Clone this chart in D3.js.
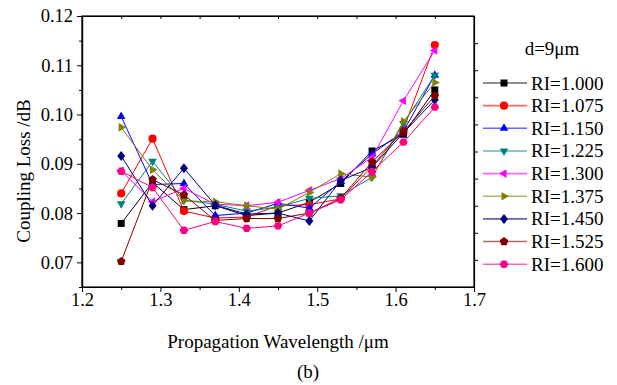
<!DOCTYPE html>
<html><head><meta charset="utf-8">
<script src="https://cdn.jsdelivr.net/npm/d3@7"></script>
<style>
body{margin:0;background:#fff}
svg{display:block}
text{font-family:"Liberation Serif","Times New Roman",serif;fill:#000}
</style>
</head><body>
<svg id="c" width="617" height="385"></svg>
<script>
// ---- data ----
const wavelengths = [1.25, 1.29, 1.33, 1.37, 1.41, 1.45, 1.49, 1.53, 1.57, 1.61, 1.65];
const seriesNames = ["RI=1.000","RI=1.075","RI=1.150","RI=1.225","RI=1.300","RI=1.375","RI=1.450","RI=1.525","RI=1.600"];
const ri1000 = [0.0779, 0.0862, 0.0807, 0.0815, 0.0795, 0.0800, 0.0822, 0.0860, 0.0926, 0.0960, 0.1050];
const ri1075 = [0.0840, 0.0951, 0.0804, 0.0790, 0.0792, 0.0815, 0.0817, 0.0829, 0.0895, 0.0970, 0.1141];
const ri1150 = [0.0996, 0.0858, 0.0860, 0.0795, 0.0800, 0.0820, 0.0810, 0.0864, 0.0920, 0.0966, 0.1080];
const ri1225 = [0.0819, 0.0905, 0.0826, 0.0818, 0.0804, 0.0812, 0.0830, 0.0835, 0.0873, 0.0982, 0.1080];
const ri1300 = [0.0886, 0.0823, 0.0850, 0.0818, 0.0815, 0.0822, 0.0846, 0.0870, 0.0913, 0.1028, 0.1130];
const ri1375 = [0.0974, 0.0888, 0.0825, 0.0823, 0.0815, 0.0808, 0.0842, 0.0880, 0.0873, 0.0986, 0.1065];
const ri1450 = [0.0916, 0.0815, 0.0891, 0.0816, 0.0798, 0.0800, 0.0784, 0.0866, 0.0893, 0.0963, 0.1030];
const ri1525 = [0.0702, 0.0868, 0.0837, 0.0785, 0.0789, 0.0789, 0.0800, 0.0830, 0.0904, 0.0965, 0.1038];
const ri1600 = [0.0885, 0.0852, 0.0765, 0.0783, 0.0769, 0.0774, 0.0800, 0.0827, 0.0884, 0.0944, 0.1015];
const xTicks = [1.2, 1.3, 1.4, 1.5, 1.6, 1.7];
const xMinorTicks = [1.25, 1.35, 1.45, 1.55, 1.65];
const yTicks = [0.07, 0.08, 0.09, 0.10, 0.11, 0.12];
const yMinorTicks = [0.065, 0.075, 0.085, 0.095, 0.105, 0.115];
const legendTitle = "d=9\u03bcm";
const xTitle = "Propagation Wavelength /\u03bcm";
const yTitle = "Coupling Loss /dB";
const caption = "(b)";

const allSeries = [ri1000, ri1075, ri1150, ri1225, ri1300, ri1375, ri1450, ri1525, ri1600];
const colors = ["#000000","#ff0000","#0000ff","#008080","#ff00ff","#808000","#000080","#800000","#ff0080"];
const markers = ["square","circle","up","down","left","right","diamond","pentagon","hexagon"];

// ---- layout ----
const svg = d3.select("#c");
const x = d3.scaleLinear().domain([1.2, 1.7]).range([82, 474]);
const y = d3.scaleLinear().domain([0.065, 0.12]).range([287, 16]);
const FONT = '"Liberation Serif","Times New Roman",serif';

function poly(n, r, rot){
  const pts=[];
  for(let i=0;i<n;i++){const a=rot+i*2*Math.PI/n; pts.push([r*Math.cos(a), r*Math.sin(a)]);}
  return "M"+pts.map(p=>p[0].toFixed(2)+","+p[1].toFixed(2)).join("L")+"Z";
}
function markerPath(t){
  switch(t){
    case "square": return "M-3.5,-3.5H3.5V3.5H-3.5Z";
    case "circle": return d3.symbol(d3.symbolCircle, 52)();
    case "up": return poly(3, 5, -Math.PI/2);
    case "down": return poly(3, 5, Math.PI/2);
    case "left": return poly(3, 5, Math.PI);
    case "right": return poly(3, 5, 0);
    case "diamond": return "M0,-5L4,0L0,5L-4,0Z";
    case "pentagon": return poly(5, 4.5, -Math.PI/2);
    case "hexagon": return poly(6, 4.3, 0);
  }
}

// frame
const g = svg.append("g");
g.append("rect").attr("x", 82).attr("y", 16).attr("width", 392).attr("height", 271)
  .attr("fill", "none").attr("stroke", "#000").attr("stroke-width", 1.2);

// left axis
const yAx = g.append("g").attr("transform", "translate(82,0)")
  .call(d3.axisLeft(y).tickValues(yTicks).tickFormat(d3.format(".2f")).tickSize(5).tickSizeOuter(0).tickPadding(4));
const yAxm = g.append("g").attr("transform", "translate(82,0)")
  .call(d3.axisLeft(y).tickValues(yMinorTicks).tickFormat("").tickSize(3).tickSizeOuter(0));
// bottom axis
const xAx = g.append("g").attr("transform", "translate(0,287)")
  .call(d3.axisBottom(x).tickValues(xTicks).tickFormat(d3.format(".1f")).tickSize(5).tickSizeOuter(0).tickPadding(1));
const xAxm = g.append("g").attr("transform", "translate(0,287)")
  .call(d3.axisBottom(x).tickValues(xMinorTicks).tickFormat("").tickSize(3).tickSizeOuter(0));
// top axis ticks (inward)
const xTop = g.append("g").attr("transform", "translate(0,16)")
  .call(d3.axisBottom(x).tickValues(xTicks.concat(xMinorTicks)).tickFormat("").tickSize(3).tickSizeOuter(0));
// right axis ticks (outward, evenly spaced)
const rScale = d3.scaleLinear().domain([0, 10]).range([287, 16]);
const yRight = g.append("g").attr("transform", "translate(474,0)")
  .call(d3.axisRight(rScale).tickValues(d3.range(1, 10)).tickFormat("").tickSize(4).tickSizeOuter(0));

[yAx, yAxm, xAx, xAxm, xTop, yRight].forEach(a => {
  a.attr("font-family", FONT);
  a.select(".domain").attr("stroke", "#000").attr("stroke-width", 1.2);
  a.selectAll(".tick line").attr("stroke", "#000").attr("stroke-width", 1);
  a.selectAll("text").style("font-size", "18.5px").attr("fill", "#000").style("font-family", FONT);
});

// series
const lineGen = d3.line().x((d, i) => x(wavelengths[i])).y(d => y(d));
allSeries.forEach((vals, si) => {
  const sg = svg.append("g");
  sg.append("path").attr("d", lineGen(vals)).attr("fill", "none")
    .attr("stroke", colors[si]).attr("stroke-width", 1);
  sg.selectAll("path.m").data(vals).enter().append("path").attr("class", "m")
    .attr("transform", (d, i) => `translate(${x(wavelengths[i])},${y(d)})`)
    .attr("d", markerPath(markers[si])).attr("fill", colors[si]);
});

// titles
svg.append("text").attr("x", 278).attr("y", 348).attr("text-anchor", "middle")
  .style("font-size", "19px").text(xTitle);
svg.append("text").attr("transform", "translate(30,171) rotate(-90)").attr("text-anchor", "middle")
  .style("font-size", "19px").text(yTitle);
svg.append("text").attr("x", 308).attr("y", 378).attr("text-anchor", "middle")
  .style("font-size", "19px").text(caption);

// legend
const lg = svg.append("g");
lg.append("text").attr("x", 552).attr("y", 55).attr("text-anchor", "middle")
  .style("font-size", "19px").text(legendTitle);
seriesNames.forEach((name, i) => {
  const cy = 83 + i * 22.65;
  lg.append("line").attr("x1", 483).attr("x2", 527).attr("y1", cy).attr("y2", cy)
    .attr("stroke", colors[i]).attr("stroke-width", 1.6).attr("stroke-opacity", 0.6);
  lg.append("path").attr("transform", `translate(504,${cy})`).attr("d", markerPath(markers[i]))
    .attr("fill", colors[i]);
  lg.append("text").attr("x", 531).attr("y", cy + 6.5).style("font-size", "19px").text(name);
});
</script>
</body></html>
